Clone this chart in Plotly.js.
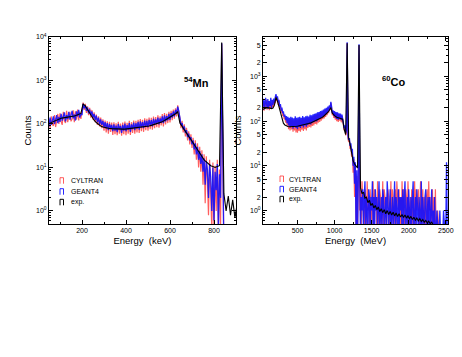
<!DOCTYPE html>
<html>
<head>
<meta charset="utf-8">
<script src="https://cdn.plot.ly/plotly-3.0.1.min.js"></script>
<style>
  html, body { margin: 0; padding: 0; background: #fff; }
  #chart { width: 462px; height: 357px; }
</style>
</head>
<body>
<div id="chart"></div>
<script>
// 54Mn: simulated spectra, 5 keV bins (bin centres)
const mnSimEnergy = [
  45, 50, 55, 60, 65, 70, 75, 80, 85, 90,
  95, 100, 105, 110, 115, 120, 125, 130, 135, 140,
  145, 150, 155, 160, 165, 170, 175, 180, 185, 190,
  195, 200, 205, 210, 215, 220, 225, 230, 235, 240,
  245, 250, 255, 260, 265, 270, 275, 280, 285, 290,
  295, 300, 305, 310, 315, 320, 325, 330, 335, 340,
  345, 350, 355, 360, 365, 370, 375, 380, 385, 390,
  395, 400, 405, 410, 415, 420, 425, 430, 435, 440,
  445, 450, 455, 460, 465, 470, 475, 480, 485, 490,
  495, 500, 505, 510, 515, 520, 525, 530, 535, 540,
  545, 550, 555, 560, 565, 570, 575, 580, 585, 590,
  595, 600, 605, 610, 615, 620, 625, 630, 635, 640,
  645, 650, 655, 660, 665, 670, 675, 680, 685, 690,
  695, 700, 705, 710, 715, 720, 725, 730, 735, 740,
  745, 750, 755, 760, 765, 770, 775, 780, 785, 790,
  795, 800, 805, 810, 815, 820, 825, 830, 835, 840,
  845
];
const mnGeant4 = [
  125, 88, 140, 95, 118, 150, 100, 135, 160, 105,
  145, 112, 170, 120, 150, 185, 115, 160, 130, 190,
  125, 175, 200, 135, 165, 120, 195, 150, 210, 140,
  175, 160, 290, 230, 270, 200, 240, 175, 215, 160,
  195, 140, 170, 125, 155, 110, 140, 100, 128, 95,
  118, 85, 110, 78, 105, 72, 100, 80, 95, 68,
  98, 70, 92, 65, 100, 75, 90, 62, 96, 70,
  102, 68, 94, 74, 105, 66, 98, 76, 108, 72,
  104, 78, 112, 74, 115, 82, 110, 80, 120, 86,
  118, 84, 125, 92, 122, 88, 132, 95, 128, 100,
  140, 98, 135, 108, 150, 105, 158, 115, 152, 122,
  170, 125, 178, 140, 195, 150, 210, 170, 250, 200,
  125, 95, 105, 75, 88, 62, 72, 50, 60, 42,
  50, 34, 42, 26, 36, 20, 30, 15, 24, 12,
  20, 8, 16, 4, 14, 9, 2, 12, 6, 1,
  10, 0.6, 8, 3, 12, 0.4, 7, 2, 7200, 30,
  0.1
];
const mnCyltran = [
  95, 130, 80, 150, 100, 90, 160, 85, 120, 170,
  100, 175, 115, 95, 190, 120, 105, 200, 110, 135,
  190, 115, 130, 205, 110, 195, 125, 215, 120, 190,
  130, 200, 310, 210, 290, 180, 255, 160, 235, 140,
  210, 125, 185, 110, 165, 95, 150, 88, 140, 80,
  128, 70, 120, 64, 115, 60, 112, 66, 108, 56,
  110, 58, 104, 55, 112, 60, 102, 54, 108, 58,
  114, 55, 106, 60, 118, 56, 110, 62, 120, 60,
  118, 64, 125, 62, 130, 68, 124, 66, 135, 72,
  132, 70, 140, 76, 138, 74, 148, 80, 145, 84,
  158, 82, 150, 92, 170, 88, 178, 98, 172, 105,
  190, 108, 200, 122, 215, 132, 230, 150, 270, 180,
  140, 80, 118, 64, 98, 52, 82, 42, 68, 34,
  58, 28, 48, 20, 42, 15, 36, 10, 30, 8,
  25, 4, 20, 1.5, 18, 5, 0.8, 15, 2, 0.4,
  13, 0.3, 11, 1, 15, 0.3, 9, 0.5, 7000, 25,
  0.1
];

// 54Mn: measured spectrum, 10 keV bins
const mnExpEnergy = [
  45, 55, 65, 75, 85, 95, 105, 115, 125, 135,
  145, 155, 165, 175, 185, 195, 205, 215, 225, 235,
  245, 255, 265, 275, 285, 295, 305, 315, 325, 335,
  345, 355, 365, 375, 385, 395, 405, 415, 425, 435,
  445, 455, 465, 475, 485, 495, 505, 515, 525, 535,
  545, 555, 565, 575, 585, 595, 605, 615, 625, 635,
  645, 655, 665, 675, 685, 695, 705, 715, 725, 735,
  745, 755, 765, 775, 785, 795, 805, 815, 825, 835,
  845, 855, 865, 875, 885, 895, 905
];
const mnExp = [
  100, 105, 110, 118, 125, 130, 135, 138, 140, 142,
  145, 148, 152, 158, 165, 175, 290, 260, 215, 175,
  140, 122, 108, 98, 90, 85, 82, 80, 79, 78,
  77, 77, 76, 76, 76, 76, 77, 77, 78, 79,
  80, 81, 82, 84, 86, 88, 90, 93, 96, 100,
  104, 108, 113, 120, 128, 136, 145, 158, 172, 190,
  105, 88, 72, 62, 52, 44, 37, 31, 26, 21,
  18, 15, 13.5, 12, 11, 10.5, 10, 10.5, 11, 7500,
  2.5, 1.0, 2.2, 0.8, 1.8, 0.7, 1.4
];

// 60Co: simulated spectra, 10 MeV bins
const coSimEnergy = [
  30, 40, 50, 60, 70, 80, 90, 100, 110, 120,
  130, 140, 150, 160, 170, 180, 190, 200, 210, 220,
  230, 240, 250, 260, 270, 280, 290, 300, 310, 320,
  330, 340, 350, 360, 370, 380, 390, 400, 410, 420,
  430, 440, 450, 460, 470, 480, 490, 500, 510, 520,
  530, 540, 550, 560, 570, 580, 590, 600, 610, 620,
  630, 640, 650, 660, 670, 680, 690, 700, 710, 720,
  730, 740, 750, 760, 770, 780, 790, 800, 810, 820,
  830, 840, 850, 860, 870, 880, 890, 900, 910, 920,
  930, 940, 950, 960, 970, 980, 990, 1000, 1010, 1020,
  1030, 1040, 1050, 1060, 1070, 1080, 1090, 1100, 1110, 1120,
  1130, 1140, 1150, 1160, 1170, 1180, 1190, 1200, 1210, 1220,
  1230, 1240, 1250, 1260, 1270, 1280, 1290, 1300, 1310, 1320,
  1330, 1340, 1350, 1360, 1370, 1380, 1390, 1400, 1410, 1420,
  1430, 1440, 1450, 1460, 1470, 1480, 1490, 1500, 1510, 1520,
  1530, 1540, 1550, 1560, 1570, 1580, 1590, 1600, 1610, 1620,
  1630, 1640, 1650, 1660, 1670, 1680, 1690, 1700, 1710, 1720,
  1730, 1740, 1750, 1760, 1770, 1780, 1790, 1800, 1810, 1820,
  1830, 1840, 1850, 1860, 1870, 1880, 1890, 1900, 1910, 1920,
  1930, 1940, 1950, 1960, 1970, 1980, 1990, 2000, 2010, 2020,
  2030, 2040, 2050, 2060, 2070, 2080, 2090, 2100, 2110, 2120,
  2130, 2140, 2150, 2160, 2170, 2180, 2190, 2200, 2210, 2220,
  2230, 2240, 2250, 2260, 2270, 2280, 2290, 2300, 2310, 2320,
  2330, 2340, 2350, 2360, 2370, 2380, 2390, 2400, 2410, 2420,
  2430, 2440, 2450, 2460, 2470, 2480, 2490, 2500, 2510, 2520,
  2530
];
const coGeant4 = [
  320, 210, 290, 185, 330, 240, 200, 310, 190, 280,
  220, 330, 190, 300, 230, 320, 260, 340, 400, 320,
  360, 260, 300, 210, 240, 170, 200, 150, 165, 125,
  140, 105, 130, 90, 125, 80, 118, 72, 125, 78,
  120, 68, 115, 75, 128, 70, 118, 66, 122, 74,
  125, 70, 118, 78, 130, 72, 122, 80, 128, 75,
  132, 82, 126, 88, 138, 84, 135, 92, 142, 95,
  145, 100, 150, 98, 158, 108, 160, 112, 168, 118,
  172, 125, 180, 130, 190, 140, 198, 150, 210, 165,
  225, 190, 270, 210, 150, 175, 130, 168, 120, 160,
  112, 158, 108, 150, 115, 148, 105, 140, 110, 85,
  70, 80, 55, 62, 5800, 48, 38, 42, 28, 32,
  20, 24, 10, 16, 4, 12, 0.3, 8, 0.3, 5,
  5200, 4.5, 0.3, 2, 1, 3, 0.3, 2, 4.5, 0.3,
  2, 1, 0.3, 3, 2, 0.3, 2, 1, 4.5, 0.3,
  2, 0.3, 3, 1, 2, 0.3, 2, 4.5, 0.3, 1,
  2, 0.3, 3, 2, 0.3, 1, 2, 0.3, 4.5, 2,
  0.3, 1, 3, 0.3, 2, 2, 0.3, 1, 4.5, 0.3,
  2, 1, 0.3, 3, 0.3, 2, 1, 2, 0.3, 3,
  0.3, 2, 4.5, 0.3, 1, 2, 0.3, 3, 1, 0.3,
  2, 0.3, 2, 4.5, 0.3, 1, 2, 0.3, 3, 1,
  0.3, 2, 1, 0.3, 4.5, 0.3, 2, 1, 0.3, 2,
  3, 0.3, 1, 2, 0.3, 2, 0.3, 1, 3, 0.3,
  1, 0.3, 2, 0.3, 0.3, 1, 0.3, 0.3, 0.3, 1,
  0.3, 0.3, 0.3, 0.3, 1, 0.3, 0.3, 0.3, 12, 0.3,
  0.3
];
const coCyltran = [
  200, 290, 170, 260, 200, 300, 180, 240, 280, 175,
  270, 190, 250, 200, 290, 210, 300, 250, 370, 280,
  330, 230, 280, 190, 225, 155, 185, 130, 150, 110,
  128, 92, 118, 80, 112, 66, 108, 62, 112, 65,
  108, 58, 104, 62, 115, 56, 108, 55, 110, 60,
  114, 58, 108, 64, 118, 60, 112, 66, 116, 62,
  120, 70, 115, 74, 125, 72, 124, 78, 130, 80,
  134, 86, 138, 84, 145, 92, 148, 96, 155, 102,
  160, 110, 168, 115, 178, 124, 185, 135, 198, 150,
  215, 175, 255, 195, 135, 165, 118, 155, 108, 150,
  100, 148, 96, 140, 102, 138, 94, 130, 98, 72,
  62, 72, 48, 56, 5600, 42, 34, 38, 24, 28,
  16, 20, 7, 14, 2, 10, 0.3, 6, 0.3, 4,
  4900, 1, 3, 0.3, 4.5, 2, 1, 0.3, 3, 2,
  0.3, 4.5, 1, 2, 0.3, 3, 1, 0.3, 2, 4.5,
  0.3, 3, 1, 2, 0.3, 4.5, 1, 0.3, 3, 2,
  0.3, 1, 4.5, 0.3, 3, 2, 1, 0.3, 2, 3,
  2, 0.3, 1, 4.5, 0.3, 3, 2, 0.3, 1, 3,
  0.3, 4.5, 2, 1, 3, 0.3, 2, 0.3, 4.5, 1,
  3, 0.3, 1, 3, 2, 0.3, 4.5, 1, 0.3, 2,
  0.3, 3, 1, 0.3, 2, 4.5, 0.3, 3, 1, 2,
  3, 0.3, 2, 4.5, 0.3, 1, 3, 0.3, 2, 1,
  0.3, 2, 3, 0.3, 4.5, 1, 2, 0.3, 1, 3,
  0.3, 2, 0.3, 3, 0.3, 0.3, 1, 0.3, 0.3, 0.3,
  0.3, 0.3, 0.3, 0.3, 0.3, 0.3, 0.3, 0.3, 0.3, 0.3,
  0.3
];

// 60Co: measured spectrum, 20 MeV bins
const coExpEnergy = [
  30, 50, 70, 90, 110, 130, 150, 170, 190, 210,
  230, 250, 270, 290, 310, 330, 350, 370, 390, 410,
  430, 450, 470, 490, 510, 530, 550, 570, 590, 610,
  630, 650, 670, 690, 710, 730, 750, 770, 790, 810,
  830, 850, 870, 890, 910, 930, 950, 970, 990, 1010,
  1030, 1050, 1070, 1090, 1110, 1130, 1150, 1170, 1190, 1210,
  1230, 1250, 1270, 1290, 1310, 1330, 1350, 1370, 1390, 1410,
  1430, 1450, 1470, 1490, 1510, 1530, 1550, 1570, 1590, 1610,
  1630, 1650, 1670, 1690, 1710, 1730, 1750, 1770, 1790, 1810,
  1830, 1850, 1870, 1890, 1910, 1930, 1950, 1970, 1990, 2010,
  2030, 2050, 2070, 2090, 2110, 2130, 2150, 2170, 2190, 2210,
  2230, 2250, 2270, 2290, 2310, 2330, 2350, 2370, 2390, 2410,
  2430, 2450, 2470, 2490, 2510, 2530
];
const coExp = [
  180, 190, 195, 200, 200, 195, 190, 195, 230, 340,
  280, 210, 150, 110, 90, 82, 78, 76, 75, 75,
  75, 75, 76, 77, 78, 79, 80, 81, 82, 84,
  86, 88, 90, 93, 96, 99, 102, 106, 110, 115,
  120, 127, 135, 145, 158, 175, 200, 150, 135, 128,
  122, 118, 115, 112, 110, 65, 50, 5500, 42, 30,
  20, 13, 11, 10, 9, 5000, 3.2, 2.4, 2.6, 1.9,
  2.0, 1.5, 1.7, 1.3, 1.45, 1.15, 1.3, 1.05, 1.2, 0.95,
  1.1, 0.9, 1.05, 0.85, 1.0, 0.82, 0.95, 0.8, 0.92, 0.76,
  0.88, 0.74, 0.85, 0.72, 0.82, 0.7, 0.8, 0.68, 0.76, 0.66,
  0.74, 0.63, 0.71, 0.61, 0.68, 0.59, 0.66, 0.57, 0.63, 0.55,
  0.6, 0.53, 0.58, 0.51, 0.55, 0.48, 0.3, 0.3, 0.3, 0.3,
  0.3, 0.3, 0.3, 0.3, 0.3, 0.3
];

const seriesNames = ['CYLTRAN', 'GEANT4', 'exp.'];
const seriesColors = ['rgba(255,40,40,0.75)', 'rgba(15,15,255,0.9)', '#000000'];

function spectrum(x, y, color, xa, ya, width) {
  return {
    x: x, y: y, type: 'scatter', mode: 'lines',
    line: { shape: 'linear', color: color, width: width },
    xaxis: xa, yaxis: ya, hoverinfo: 'skip', showlegend: false
  };
}

const data = [
  spectrum(mnSimEnergy, mnCyltran, seriesColors[0], 'x', 'y', 1.2),
  spectrum(mnSimEnergy, mnGeant4, seriesColors[1], 'x', 'y', 1.3),
  spectrum(mnExpEnergy, mnExp, seriesColors[2], 'x', 'y', 1.1),
  spectrum(coSimEnergy, coCyltran, seriesColors[0], 'x2', 'y2', 1.2),
  spectrum(coSimEnergy, coGeant4, seriesColors[1], 'x2', 'y2', 1.3),
  spectrum(coExpEnergy, coExp, seriesColors[2], 'x2', 'y2', 1.1)
];

const W = 462, H = 357;
const px = v => v / W;
const py = v => 1 - v / H;

const axisBase = {
  showline: true, linecolor: '#000', linewidth: 1, mirror: 'ticks',
  ticks: 'inside', ticklen: 4, tickcolor: '#000', tickwidth: 1,
  showgrid: false, zeroline: false, automargin: false,
  tickfont: { size: 7, color: '#000' }
};

const logMinor = [0.6, 0.7, 0.8, 0.9, 2, 3, 4, 5, 6, 7, 8, 9,
  20, 30, 40, 50, 60, 70, 80, 90, 200, 300, 400, 500, 600, 700, 800, 900,
  2000, 3000, 4000, 5000, 6000, 7000, 8000, 9000];

const layout = {
  width: W, height: H,
  margin: { l: 0, r: 0, t: 0, b: 0 },
  paper_bgcolor: '#fff', plot_bgcolor: '#fff',
  showlegend: false,
  font: { family: 'Liberation Sans, Arial, sans-serif', color: '#000' },
  xaxis: Object.assign({}, axisBase, {
    domain: [px(49), px(236)], range: [50, 900], anchor: 'y',
    tickmode: 'array', tickvals: [200, 400, 600, 800],
    minor: { ticks: 'inside', ticklen: 2, tickcolor: '#000', tickmode: 'array', tickvals: [100, 300, 500, 700, 900] },
    title: { text: 'Energy\u00a0 (keV)', font: { size: 9.5 }, standoff: 3 }
  }),
  yaxis: Object.assign({}, axisBase, {
    domain: [py(224), py(37)], type: 'log', range: [-0.3, 4], anchor: 'x',
    tickmode: 'array', tickvals: [1, 10, 100, 1000, 10000],
    ticktext: ['10<sup>0</sup>', '10<sup>1</sup>', '10<sup>2</sup>', '10<sup>3</sup>', '10<sup>4</sup>'],
    minor: { ticks: 'inside', ticklen: 2, tickcolor: '#000', tickmode: 'array', tickvals: logMinor },
    title: { text: 'Counts', font: { size: 9.5 }, standoff: 2 }
  }),
  xaxis2: Object.assign({}, axisBase, {
    domain: [px(263), px(448)], range: [35, 2530], anchor: 'y2',
    tickmode: 'array', tickvals: [500, 1000, 1500, 2000, 2500],
    minor: { ticks: 'inside', ticklen: 2, tickcolor: '#000', tickmode: 'array', tickvals: [250, 750, 1250, 1750, 2250] },
    title: { text: 'Energy\u00a0 (MeV)', font: { size: 9.5 }, standoff: 3 }
  }),
  yaxis2: Object.assign({}, axisBase, {
    domain: [py(224), py(37)], type: 'log', range: [-0.3, 3.88], anchor: 'x2',
    tickmode: 'array',
    tickvals: [0.5, 1, 2, 5, 10, 20, 50, 100, 200, 500, 1000, 2000, 5000],
    ticktext: ['5', '10<sup>0</sup>', '2', '5', '10<sup>1</sup>', '2', '5', '10<sup>2</sup>', '2', '5', '10<sup>3</sup>', '2', '5'],
    minor: { ticks: 'inside', ticklen: 2, tickcolor: '#000', tickmode: 'array', tickvals: logMinor },
    title: { text: 'Counts', font: { size: 9.5 }, standoff: 6 }
  }),
  annotations: [
    { xref: 'paper', yref: 'paper', x: px(196), y: py(73), text: '<b><sup>54</sup>Mn</b>',
      showarrow: false, font: { size: 11 } },
    { xref: 'paper', yref: 'paper', x: px(408), y: py(72), text: '<b><sup>60</sup>Co</b>',
      showarrow: false, font: { size: 11 } }
  ],
  shapes: []
};

// hand-made legends: open bar symbol + label
function addLegend(symX, textX, rows) {
  rows.forEach((cy, i) => {
    const x0 = px(symX), x1 = px(symX + 3.5);
    const yb = py(cy + 3), yt = py(cy - 3);
    layout.shapes.push({
      type: 'path', xref: 'paper', yref: 'paper',
      path: `M ${x0},${yb} L ${x0},${yt} L ${x1},${yt} L ${x1},${yb}`,
      line: { color: seriesColors[i], width: 1 }
    });
    layout.annotations.push({
      xref: 'paper', yref: 'paper', x: px(textX), y: py(cy), xanchor: 'left', yanchor: 'middle',
      text: seriesNames[i], showarrow: false, font: { size: 7 }
    });
  });
}
addLegend(60, 69, [180.7, 191.7, 202.3]);
addLegend(280, 287, [179, 189.3, 199.3]);

Plotly.newPlot('chart', data, layout, { staticPlot: true, displayModeBar: false });
</script>
</body>
</html>
